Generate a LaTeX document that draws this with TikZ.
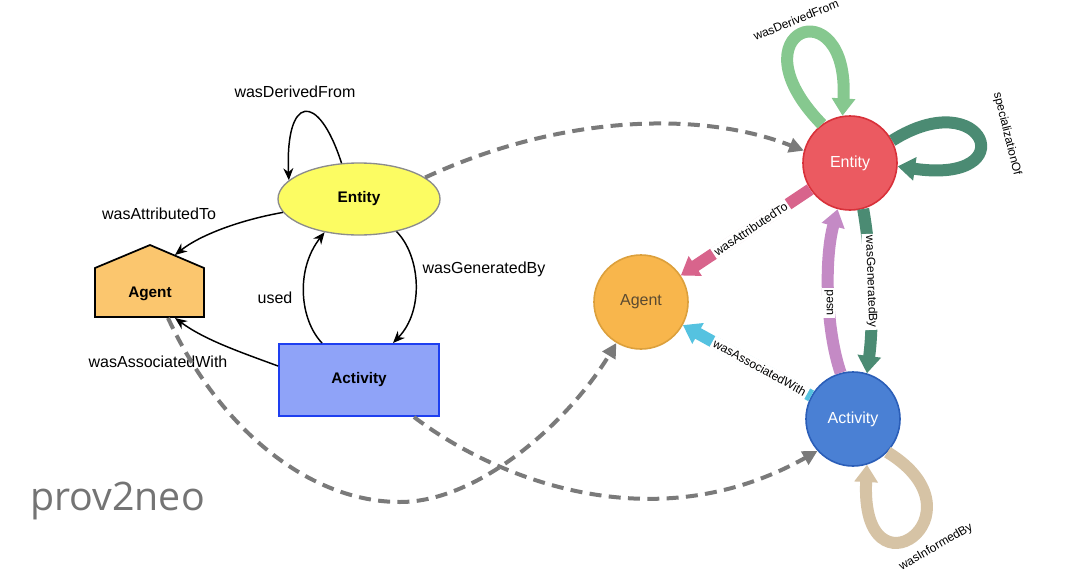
\documentclass[tikz,border=0pt]{standalone}
\usepackage{fontspec}
\setmainfont{Liberation Sans}
\newfontfamily\logofont{Open Sans}
\usetikzlibrary{arrows.meta,shapes.geometric,calc}
\definecolor{entyellow}{HTML}{FCFC62}
\definecolor{ellgray}{HTML}{8C8C8C}
\definecolor{agorange}{HTML}{FBC66E}
\definecolor{actfill}{HTML}{8FA3F8}
\definecolor{actblue}{HTML}{1E3FF0}
\definecolor{dashgray}{HTML}{7A7A7A}
\definecolor{entred}{HTML}{EB5A61}
\definecolor{entredb}{HTML}{D8313A}
\definecolor{agyel}{HTML}{F8B64C}
\definecolor{agyelb}{HTML}{DCA03C}
\definecolor{agtext}{HTML}{5B4A30}
\definecolor{actb}{HTML}{4A80D4}
\definecolor{actbb}{HTML}{2B5EB8}
\definecolor{greenA}{HTML}{86C88F}
\definecolor{greenB}{HTML}{4B8B73}
\definecolor{pinkc}{HTML}{D8648C}
\definecolor{purplec}{HTML}{C48AC5}
\definecolor{cyanc}{HTML}{55C2E0}
\definecolor{tanc}{HTML}{D6C3A5}
\definecolor{logogray}{HTML}{747474}
\begin{document}
\begin{tikzpicture}[x=0.75pt,y=-0.75pt,
  lbl/.style={font=\fontsize{12}{14}\selectfont, inner sep=1pt},
  boldlbl/.style={font=\bfseries\fontsize{11.5}{13}\selectfont},
  blk/.style={draw=black, line width=1.1pt, -{Stealth[length=9pt,width=7.5pt]}},
  gdash/.style={draw=dashgray, line width=3pt, dash pattern=on 9pt off 5.5pt, -{Triangle[length=11pt,width=11pt]}},
  nnode/.style={circle, minimum size=70.5pt, inner sep=0pt, line width=1.2pt, font=\fontsize{12}{14}\selectfont},
  fat/.style={line width=9pt, -{Triangle[length=13pt,width=17pt]}},
  elbl/.style={font=\fontsize{9}{11}\selectfont, fill=white, inner sep=1.5pt, text=black},
  olbl/.style={font=\fontsize{9}{11}\selectfont, inner sep=1pt, text=black}]
\useasboundingbox[fill=white] (0,0) rectangle (1088,578);

% ---------- left diagram ----------
\node[ellipse, draw=ellgray, line width=1pt, fill=entyellow, minimum width=121.5pt, minimum height=54pt, inner sep=0pt, boldlbl] (E1) at (359,199) {Entity};
\filldraw[fill=agorange, draw=black, line width=1.3pt] (95,317) -- (95,268) -- (150,245) -- (204,268) -- (204,317) -- cycle;
\node[boldlbl] (Ag1) at (150,294) {Agent};
\node[rectangle, draw=actblue, line width=1.5pt, fill=actfill, minimum width=120pt, minimum height=54pt, boldlbl] (Act1) at (359,380) {Activity};
\coordinate (AgRoof) at (175,255);
\coordinate (AgBotR) at (175,318);
\coordinate (AgBotL) at (168,318);

\draw[blk] (E1.116) .. controls (318,90) and (285,95) .. (E1.165);
\draw[blk] (E1.190) .. controls (240,220) and (200,235) .. (AgRoof);
\draw[blk] (E1.-41) .. controls (420,255) and (425,310) .. ($(Act1.north)+(34,0)$);
\draw[blk] ($(Act1.north)+(-37,0)$) .. controls (300,320) and (295,270) .. (E1.224);
\draw[blk] ($(Act1.west)+(0,-14)$) .. controls (240,352) and (205,340) .. (AgBotR);

\node[lbl] (lDF1) at (295,92) {wasDerivedFrom};
\node[lbl] (lAT1) at (159,214) {wasAttributedTo};
\node[lbl] (lGB1) at (484,269) {wasGeneratedBy};
\node[lbl] (lU1) at (275,298) {used};
\node[lbl] (lAW1) at (158,362) {wasAssociatedWith};

% ---------- right diagram ----------
\node[nnode, fill=entred, draw=entredb, text=white] (E2) at (850,163) {Entity};
\node[nnode, fill=agyel, draw=agyelb, text=agtext] (Ag2) at (641,302) {Agent};
\node[nnode, fill=actb, draw=actbb, text=white] (Act2) at (853,419) {Activity};

% ---------- dashed mapping arrows ----------
\draw[gdash] (E1.18) .. controls (560,115) and (700,110) .. (E2.165);
\draw[gdash] (AgBotL) .. controls (220,430) and (310,502) .. (400,502) .. controls (480,502) and (570,420) .. (Ag2.239);
\draw[gdash] ($(Act1.south)+(55,0)$) .. controls (490,475) and (650,545) .. (Act2.222);

% ---------- thick coloured relations ----------
\draw[fat, greenA] (E2.126) .. controls (730,30) and (850,-15) .. (E2.99);
\node[olbl, rotate=22] (lDF2) at (796,20) {wasDerivedFrom};
\draw[fat, greenB] (E2.28) .. controls (985,82) and (1025,185) .. (E2.-4);
\node[olbl, rotate=-76] (lSO2) at (1007,134) {specializationOf};
\draw[fat, pinkc] (E2) -- (Ag2) node[elbl, pos=0.46, sloped] (lAT2) {wasAttributedTo};
\draw[fat, cyanc] (Act2) -- (Ag2) node[elbl, pos=0.4, sloped] (lAW2) {wasAssociatedWith};
\draw[fat, greenB] (E2.-74) .. controls (872,260) and (874,320) .. (Act2.73) node[elbl, pos=0.45, rotate=-88] (lGB2) {wasGeneratedBy};
\draw[fat, purplec] (Act2.105) .. controls (826,330) and (824,260) .. (E2.255) node[elbl, pos=0.45, rotate=90] (lU2) {used};
\draw[fat, tanc] (Act2.-44) .. controls (990,515) and (860,605) .. (Act2.-73);
\node[olbl, rotate=30] (lIB2) at (936,547) {wasInformedBy};

% ---------- logo ----------
\node[font=\logofont\fontsize{29.5}{32}\selectfont, text=logogray, anchor=base west, inner sep=0pt] (logo) at (30,510) {prov2neo};
\end{tikzpicture}
\end{document}
